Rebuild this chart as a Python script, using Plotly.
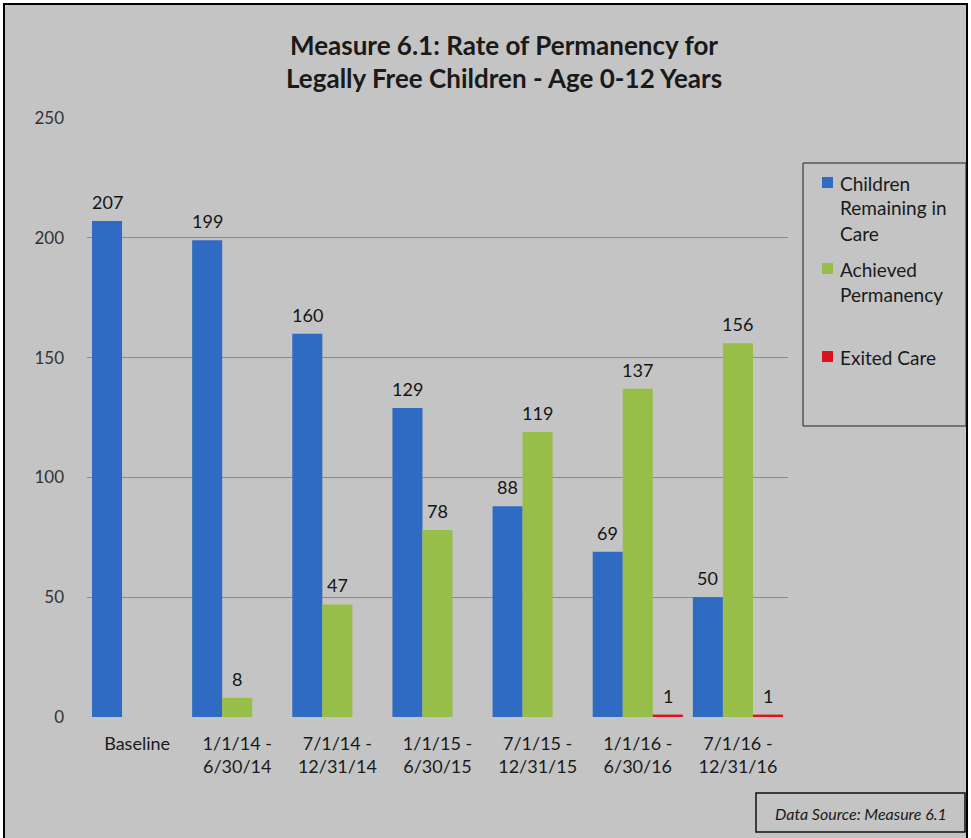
import plotly.graph_objects as go

# ---- data ----
categories = ["Baseline", "1/1/14 -<br>6/30/14", "7/1/14 -<br>12/31/14", "1/1/15 -<br>6/30/15",
              "7/1/15 -<br>12/31/15", "1/1/16 -<br>6/30/16", "7/1/16 -<br>12/31/16"]
remaining = [207, 199, 160, 129, 88, 69, 50]
achieved = [None, 8, 47, 78, 119, 137, 156]
exited = [None, None, None, None, None, 1, 1]

series_names = ["Children Remaining in Care", "Achieved Permanency", "Exited Care"]
legend_lines = [["Children", "Remaining in", "Care"], ["Achieved", "Permanency"], ["Exited Care"]]
colors = ["#2f6bc2", "#97be48", "#d8141c"]

# ---- layout geometry (pixels) ----
W, H = 971, 838
L, R, T, B = 87, 183, 118, 121
PW, PH = W - L - R, H - T - B
BG = "#c4c4c4"
FONT = "Lato, 'Open Sans', sans-serif"


def px(x):
    return (x - L) / PW


def py(y):
    return (H - B - y) / PH


bar_w = 0.3
offsets = [-0.45, -0.15, 0.15]
xs = list(range(len(categories)))

fig = go.Figure()
annotations = []
for vals, name, col, off in zip([remaining, achieved, exited], series_names, colors, offsets):
    fig.add_trace(go.Bar(
        x=xs, y=vals, name=name, width=bar_w, offset=off,
        marker=dict(color=col, line=dict(width=0)), showlegend=False,
    ))
    for xi, v in zip(xs, vals):
        if v is None:
            continue
        annotations.append(dict(
            x=xi + off + bar_w / 2, y=v, xref="x", yref="y", text=str(v),
            showarrow=False, yanchor="bottom", yshift=6,
            font=dict(family=FONT, size=18, color="#151515"),
        ))

# title
for txt, yc in [("Measure 6.1: Rate of Permanency for", 45),
                 ("Legally Free Children - Age 0-12 Years", 78)]:
    annotations.append(dict(
        x=px(504), y=py(yc), xref="paper", yref="paper", text=f"<b>{txt}</b>",
        showarrow=False, xanchor="center", yanchor="middle",
        font=dict(family=FONT, size=26, color="#1a1a1a"),
    ))

shapes = [
    # outer frame
    dict(type="rect", xref="paper", yref="paper", x0=px(4), x1=px(967), y0=py(850), y1=py(4),
         fillcolor=BG, line=dict(color="black", width=2), layer="below"),
    # legend box
    dict(type="rect", xref="paper", yref="paper", x0=px(803), x1=px(966), y0=py(426), y1=py(163),
         fillcolor=BG, line=dict(color="#222222", width=1), layer="below"),
    # data source box
    dict(type="rect", xref="paper", yref="paper", x0=px(756), x1=px(965), y0=py(832), y1=py(793),
         fillcolor=BG, line=dict(color="#111111", width=1.5), layer="below"),
]

# manual legend
legend_rows = [183, 269, 357]
line_gap = 25
for lines, col, y0 in zip(legend_lines, colors, legend_rows):
    shapes.append(dict(type="rect", xref="paper", yref="paper",
                       x0=px(822), x1=px(833), y0=py(y0 + 5), y1=py(y0 - 6),
                       fillcolor=col, line=dict(width=0)))
    for k, ln in enumerate(lines):
        annotations.append(dict(
            x=px(838), y=py(y0 + k * line_gap), xref="paper", yref="paper", text=ln,
            showarrow=False, xanchor="left", yanchor="middle",
            font=dict(family=FONT, size=19, color="#1a1a1a"),
        ))

annotations.append(dict(
    x=px(861), y=py(813), xref="paper", yref="paper", text="<i>Data Source: Measure 6.1</i>",
    showarrow=False, xanchor="center", yanchor="middle",
    font=dict(family=FONT, size=16, color="#1a1a1a"),
))

fig.update_layout(
    width=W, height=H,
    margin=dict(l=L, r=R, t=T, b=B, pad=0),
    paper_bgcolor="white", plot_bgcolor="white",
    barmode="group",
    shapes=shapes, annotations=annotations,
    xaxis=dict(range=[-0.5, len(categories) - 0.5], tickvals=xs, ticktext=categories,
               showgrid=False, zeroline=False, showline=False, ticks="",
               ticklabelstandoff=14,
               tickfont=dict(family=FONT, size=18, color="#1a1a1a")),
    yaxis=dict(range=[0, 250], tickvals=[0, 50, 100, 150, 200, 250],
               showgrid=True, gridcolor="#8a8a8a", gridwidth=1, zeroline=False,
               showline=False, ticks="", ticklabelstandoff=22,
               tickfont=dict(family=FONT, size=17, color="#333333")),
)

fig.write_html("out.html")
